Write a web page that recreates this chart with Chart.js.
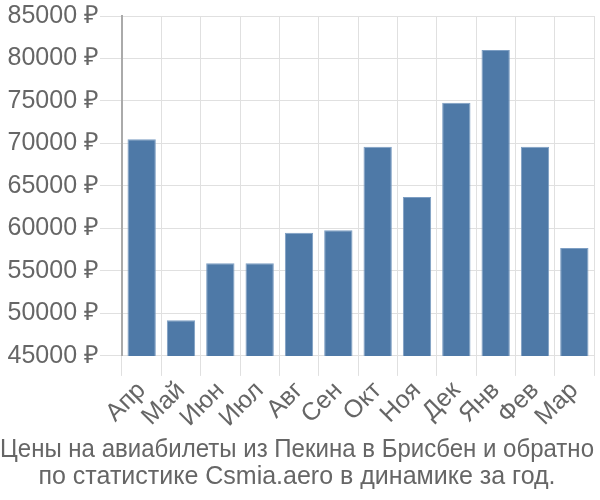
<!DOCTYPE html>
<html><head><meta charset="utf-8">
<script src="https://cdn.jsdelivr.net/npm/chart.js@4/dist/chart.umd.min.js"></script>
<style>html,body{margin:0;padding:0;background:#fff}#wrap{width:600px;height:500px}</style>
</head><body><div id="wrap"><canvas id="c" width="600" height="500"></canvas></div>
<script>
const categories = ["Апр","Май","Июн","Июл","Авг","Сен","Окт","Ноя","Дек","Янв","Фев","Мар"];
const prices = [70500,49200,55900,55900,59500,59800,69600,63700,74800,81000,69600,57700];
const yTicks = [45000,50000,55000,60000,65000,70000,75000,80000,85000];
const titleLines = ["Цены на авиабилеты из Пекина в Брисбен и обратно","по статистике Csmia.aero в динамике за год."];

const font = "'Liberation Sans', Arial, sans-serif";
new Chart(document.getElementById('c'), {
  type: 'bar',
  data: { labels: categories, datasets: [{ data: prices, backgroundColor: '#4e79a7', borderColor: '#7d9ec3', borderWidth: 1 }] },
  options: {
    responsive: false, animation: false,
    layout: { padding: { top: 3, right: 6, left: 0, bottom: 9 } },
    plugins: {
      legend: { display: false }, tooltip: { enabled: false },
      title: { display: true, position: 'bottom', text: titleLines, color: '#666', font: { family: font, size: 25, weight: 'normal', lineHeight: 1.08 }, padding: { top: 4, bottom: 0 } }
    },
    scales: {
      x: {
        grid: { color: '#e0e0e0', tickLength: 20, offset: true },
        border: { color: '#e0e0e0' },
        ticks: { color: '#666', font: { family: font, size: 25 }, maxRotation: 45, minRotation: 45, padding: 0, autoSkip: false }
      },
      y: {
        min: 45000, max: 85000,
        afterBuildTicks: (s) => { s.ticks = yTicks.map(v => ({ value: v })); },
        afterFit: (s) => { s.width = 122; },
        grid: { color: '#e0e0e0', tickLength: 22 },
        border: { color: '#aaa', width: 2 },
        ticks: { color: '#666', font: { family: font, size: 25 }, padding: 1, callback: (v) => v + ' ₽' }
      }
    }
  }
});
</script></body></html>
